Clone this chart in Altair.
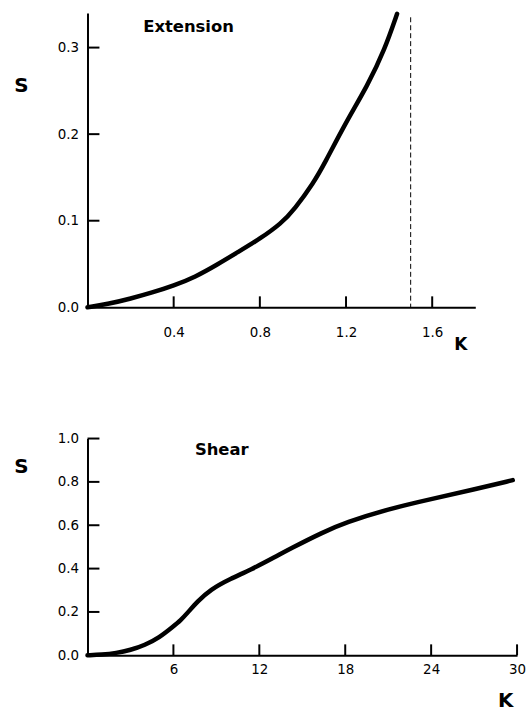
import altair as alt
import pandas as pd

# ---- data ----
ext_k = [0.0, 0.1, 0.2, 0.3, 0.4, 0.5, 0.6, 0.7, 0.8, 0.9, 0.96, 1.05, 1.1, 1.2, 1.3, 1.38, 1.437]
ext_s = [0.0, 0.004, 0.010, 0.017, 0.025, 0.035, 0.049, 0.064, 0.079, 0.097, 0.113, 0.144, 0.166,
         0.214, 0.256, 0.298, 0.339]
ext_xticks = [0.4, 0.8, 1.2, 1.6]
ext_yticks = [0.0, 0.1, 0.2, 0.3]
limit_k = [1.5]
limit_top = [0.335]

shear_k = [0, 1, 2, 3, 4, 5, 6, 6.5, 7, 7.65, 8.57, 10, 11.36, 13.2, 14.14, 16.45, 18, 21, 24, 27, 29.7]
shear_s = [0.0, 0.003, 0.010, 0.024, 0.047, 0.081, 0.134, 0.161, 0.197, 0.246, 0.303, 0.354, 0.393,
           0.457, 0.491, 0.568, 0.612, 0.675, 0.721, 0.765, 0.808]
shear_xticks = [6, 12, 18, 24, 30]
shear_yticks = [0.0, 0.2, 0.4, 0.6, 0.8, 1.0]

FONT = "DejaVu Sans"


def panel(k, s, xdom, ydom, xticks, yticks, xfmt, w, h, label, label_x, label_y,
          ytitle_y, xtitle_x, xtitle_y, xlabpad, ktitle_size, extra=None):
    xs = alt.Scale(domain=xdom, nice=False, zero=False)
    ys = alt.Scale(domain=ydom, nice=False, zero=False)
    xaxis = alt.Axis(values=xticks, format=xfmt, ticks=False, tickSize=0, grid=False,
                     domainColor="black", domainWidth=2, labelFont=FONT, labelFontSize=13.5,
                     labelColor="black", labelPadding=xlabpad, labelFlush=False,
                     title="K", titleFont=FONT, titleFontSize=ktitle_size, titleFontWeight="bold",
                     titleColor="black", titleAngle=0, titleX=xtitle_x, titleY=xtitle_y,
                     titleAlign="center", titleBaseline="middle")
    yaxis = alt.Axis(values=yticks, format=".1f", ticks=False, tickSize=0, grid=False,
                     domainColor="black", domainWidth=2, labelFont=FONT, labelFontSize=13.5,
                     labelColor="black", labelPadding=9, labelFlush=False,
                     title="S", titleFont=FONT, titleFontSize=20, titleFontWeight="bold",
                     titleColor="black", titleAngle=0, titleX=-67, titleY=ytitle_y,
                     titleAlign="center", titleBaseline="middle")

    df = pd.DataFrame({"K": k, "S": s})
    line = alt.Chart(df).mark_line(color="black", strokeWidth=4.5, strokeCap="round",
                                   strokeJoin="round", interpolate="basis").encode(
        x=alt.X("K:Q", scale=xs, axis=xaxis),
        y=alt.Y("S:Q", scale=ys, axis=yaxis),
    )
    xt = alt.Chart(pd.DataFrame({"K": xticks})).mark_rule(color="black", strokeWidth=2).encode(
        x=alt.X("K:Q", scale=xs, axis=xaxis),
        y=alt.value(h), y2=alt.value(h - 11),
    )
    yt = alt.Chart(pd.DataFrame({"S": [v for v in yticks if v > 0]})).mark_rule(
        color="black", strokeWidth=2).encode(
        y=alt.Y("S:Q", scale=ys, axis=yaxis),
        x=alt.value(0), x2=alt.value(12),
    )
    txt = alt.Chart(pd.DataFrame({"t": [label]})).mark_text(
        font=FONT, fontSize=16.5, fontWeight="bold", color="black", align="left",
        baseline="middle").encode(x=alt.value(label_x), y=alt.value(label_y), text="t:N")
    layers = [xt, yt, line, txt]
    if extra is not None:
        layers.insert(0, extra(xs, ys, xaxis, yaxis))
    return alt.layer(*layers).properties(width=w, height=h)


def dashed(xs, ys, xaxis, yaxis):
    d = pd.DataFrame({"K": limit_k, "S": limit_top, "S0": [0.0]})
    return alt.Chart(d).mark_rule(color="black", strokeWidth=1, strokeDash=[5, 3]).encode(
        x=alt.X("K:Q", scale=xs, axis=xaxis),
        y=alt.Y("S:Q", scale=ys, axis=yaxis),
        y2="S0:Q",
    )


top = panel(ext_k, ext_s, [0, 1.8], [0, 0.34], ext_xticks, ext_yticks, ".1f", 390, 296,
            "Extension", 56, 14, 73, 375, 37, 18, 17, extra=dashed)
bottom = panel(shear_k, shear_s, [0, 30], [0, 1.0], shear_xticks, shear_yticks, "d", 432, 218,
               "Shear", 108, 12, 28, 420, 46, 7, 20)

chart = alt.VConcatChart(vconcat=[top, bottom], spacing=132, bounds="flush").properties(
    padding={"left": 13, "top": 9, "right": 0, "bottom": 0},
    background="white",
).configure_view(stroke=None)

chart.save("out.html", embed_options={"renderer": "svg", "actions": False})
